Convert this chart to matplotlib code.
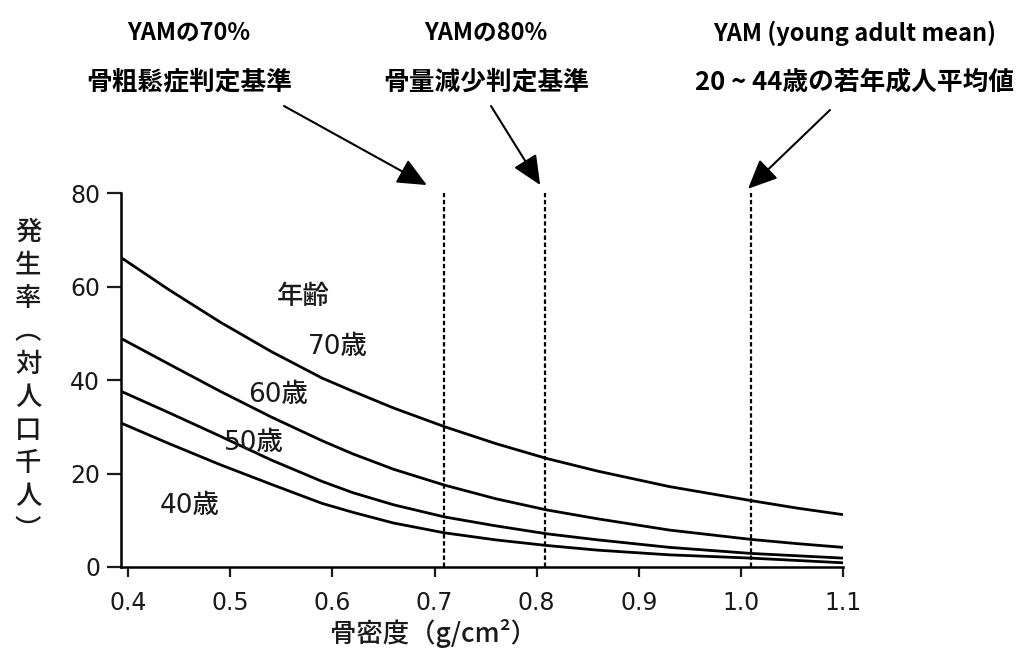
import numpy as np
import matplotlib
matplotlib.use("Agg")
from matplotlib import pyplot as plt

plt.rcParams['font.family'] = ['Noto Sans CJK JP', 'DejaVu Sans']

# bone density (g/cm2) sample points
bmd = [0.393, 0.44, 0.49, 0.54, 0.59, 0.62, 0.66, 0.71, 0.76, 0.81, 0.86, 0.93, 1.01, 1.055, 1.10]
# incidence (per 1000 people) by age
age70 = [66.2, 59.3, 52.4, 46.1, 40.4, 37.6, 34.0, 30.0, 26.4, 23.2, 20.5, 17.2, 14.2, 12.6, 11.2]
age60 = [48.9, 43.4, 37.6, 32.1, 27.0, 24.2, 20.9, 17.5, 14.6, 12.2, 10.3, 7.9, 5.9, 5.0, 4.2]
age50 = [37.6, 33.0, 28.0, 22.9, 18.3, 15.9, 13.3, 10.7, 8.8, 7.1, 5.8, 4.2, 2.9, 2.4, 1.9]
age40 = [30.8, 26.4, 21.9, 17.7, 13.6, 11.7, 9.4, 7.3, 5.8, 4.6, 3.6, 2.6, 1.9, 1.4, 0.9]

curve_labels = ['70歳', '60歳', '50歳', '40歳']
label_pos = [(0.605, 47.1), (0.547, 36.8), (0.523, 26.5), (0.460, 13.0)]

xticks = [0.4, 0.5, 0.6, 0.7, 0.8, 0.9, 1.0, 1.1]
xticklabels = ['0.4', '0.5', '0.6', '0.7', '0.8', '0.9', '1.0', '1.1']
yticks = [0, 20, 40, 60, 80]

# reference lines: YAM 70%, YAM 80%, YAM
ref_x = [0.709, 0.808, 1.010]
ref_line1 = ['YAMの70%', 'YAMの80%', 'YAM (young adult mean)']
ref_line2 = ['骨粗鬆症判定基準', '骨量減少判定基準', '20 ~ 44歳の若年成人平均値']
text_cx = [189, 486, 855]          # pixel centres of the captions
arrow_tail = [(284, 106), (491, 106), (830, 110)]
arrow_head = [(0.6925, 81.7), (0.8035, 81.7), (1.007, 80.9)]

W, H = 1034, 661
fig = plt.figure(figsize=(W / 100, H / 100), dpi=100)
ax = fig.add_axes([121 / W, 1 - 567 / H, (843 - 121) / W, (567 - 193) / H])

for ys in (age70, age60, age50, age40):
    ax.plot(bmd, ys, color='black', lw=2.0, solid_capstyle='butt', solid_joinstyle='round')

for xv in ref_x:
    ax.plot([xv, xv], [0, 80], color='black', lw=1.6, linestyle=(0, (2.0, 1.2)))

num_font = ['DejaVu Sans', 'Noto Sans CJK JP']
ax.text(0.571, 57.8, '年齢', fontsize=19, ha='center', va='center', color='#1a1a1a',
        fontweight='medium')
for lab, (lx, ly) in zip(curve_labels, label_pos):
    ax.text(lx, ly, lab, fontsize=19, ha='center', va='center', color='#1a1a1a',
            family=num_font, fontweight='medium')

ax.set_xlim(0.393, 1.1)
ax.set_ylim(0, 80)
ax.set_xticks(xticks)
ax.set_xticklabels(xticklabels)
ax.set_yticks(yticks)
for s in ('top', 'right'):
    ax.spines[s].set_visible(False)
for s in ('left', 'bottom'):
    ax.spines[s].set_linewidth(1.8)
ax.tick_params(axis='y', direction='out', length=10, width=1.6, labelsize=17, pad=5,
               colors='#1a1a1a', labelfontfamily='DejaVu Sans')
ax.tick_params(axis='x', direction='out', length=7, width=1.6, labelsize=17, pad=10,
               colors='#1a1a1a', labelfontfamily='DejaVu Sans')

fig.text(433 / W, 1 - 634 / H, '骨密度（g/cm²）', fontsize=19, ha='center', va='center',
         color='#1a1a1a', fontweight='medium')
ylab = '\n'.join(['発', '生', '率', '︵', '対', '人', '口', '千', '人', '︶'])
fig.text(28 / W, 1 - 381 / H, ylab, fontsize=19, ha='center', va='center',
         linespacing=1.29, color='#1a1a1a', fontweight='medium')

for cx, t1, t2 in zip(text_cx, ref_line1, ref_line2):
    fig.text(cx / W, 1 - 33 / H, t1, fontsize=17, ha='center', va='center', fontweight='bold')
    fig.text(cx / W, 1 - 82 / H, t2, fontsize=18.5, ha='center', va='center', fontweight='bold')

for (tx, ty), head in zip(arrow_tail, arrow_head):
    ax.annotate('', xy=head, xycoords='data',
                xytext=(tx / W, 1 - ty / H), textcoords='figure fraction',
                annotation_clip=False,
                arrowprops=dict(arrowstyle='-|>,head_length=1.0,head_width=0.45',
                                mutation_scale=18, lw=1.5, color='black',
                                shrinkA=0, shrinkB=0))

fig.savefig('out.png', dpi=100)
